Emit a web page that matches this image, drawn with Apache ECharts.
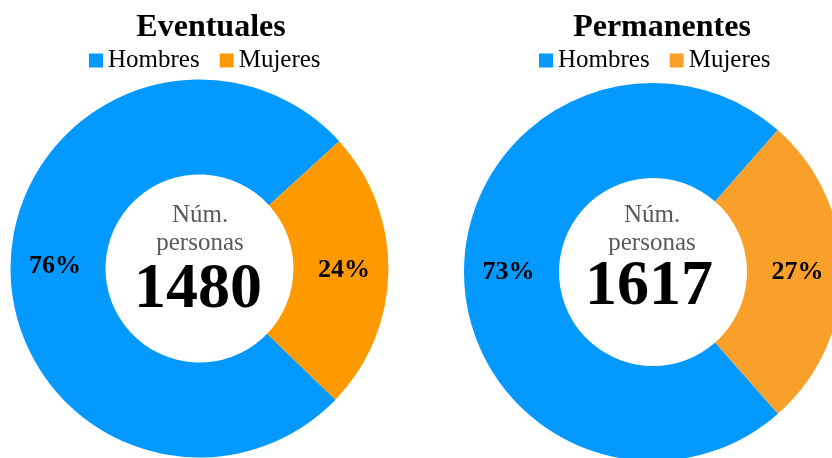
<!DOCTYPE html>
<html>
<head>
<meta charset="utf-8">
<script src="https://cdn.jsdelivr.net/npm/echarts@6/dist/echarts.min.js"></script>
<style>
  html, body { margin: 0; padding: 0; background: #fff; }
  #dom { width: 832px; height: 458px; }
</style>
</head>
<body>
<div id="dom"></div>
<script>
// categorias y valores (personas)
var categories = ['Hombres', 'Mujeres'];
var eventuales = [1125, 355];
var permanentes = [1180, 437];
var chartTitles = ['Eventuales', 'Permanentes'];
var centerLabel = 'Núm.\npersonas';

var font = "'Liberation Serif', 'DejaVu Serif', serif";
var blue = '#0399FF';
var orangeL = '#FF9900';
var orangeR = '#F9A02A';

function total(arr) {
  var s = 0;
  for (var i = 0; i < arr.length; i++) s += arr[i];
  return s;
}

function pieData(values, colors) {
  var list = [];
  for (var i = 0; i < categories.length; i++) {
    list.push({ name: categories[i], value: values[i], itemStyle: { color: colors[i] } });
  }
  return list;
}

function pieSeries(values, colors, center, startAngle) {
  return {
    type: 'pie',
    center: center,
    radius: [94, 189],
    startAngle: startAngle,
    avoidLabelOverlap: false,
    silent: true,
    label: {
      show: true,
      position: 'inside',
      fontFamily: font,
      fontSize: 26,
      fontWeight: 'bold',
      color: '#000',
      formatter: function (p) {
        return Math.round(p.percent) + '%';
      }
    },
    labelLine: { show: false },
    itemStyle: { borderWidth: 0 },
    data: pieData(values, colors)
  };
}

function legendOf(left, colors) {
  return {
    left: left,
    top: 48,
    padding: 0,
    icon: 'rect',
    itemWidth: 14,
    itemHeight: 14,
    itemGap: 20,
    textStyle: { fontFamily: font, fontSize: 25, color: '#000' },
    data: [
      { name: categories[0], itemStyle: { color: colors[0] } },
      { name: categories[1], itemStyle: { color: colors[1] } }
    ]
  };
}

function titleOf(text, x, y, size, weight, color, lh) {
  return {
    text: text, left: x, top: y, textAlign: 'center', padding: 0,
    textStyle: { fontFamily: font, fontSize: size, fontWeight: weight, color: color, lineHeight: lh }
  };
}

var myChart = echarts.init(document.getElementById('dom'));

var option = {
  animation: false,
  title: [
    titleOf(chartTitles[0], 211, 12, 32, 'bold', '#000', 32),
    titleOf(chartTitles[1], 662, 12, 32, 'bold', '#000', 32),
    titleOf(centerLabel, 200, 201, 25, 'normal', '#595959', 28),
    titleOf(centerLabel, 652, 201, 25, 'normal', '#595959', 28),
    titleOf(String(total(eventuales)), 198, 258, 64, 'bold', '#000', 64),
    titleOf(String(total(permanentes)), 649, 255, 64, 'bold', '#000', 64)
  ],
  legend: [
    legendOf(89, [blue, orangeL]),
    legendOf(539, [blue, orangeR])
  ],
  series: [
    pieSeries(eventuales, [blue, orangeL], [199.5, 268.5], -44),
    pieSeries(permanentes, [blue, orangeR], [653, 272], -48.6)
  ]
};
myChart.setOption(option);
</script>
</body>
</html>
